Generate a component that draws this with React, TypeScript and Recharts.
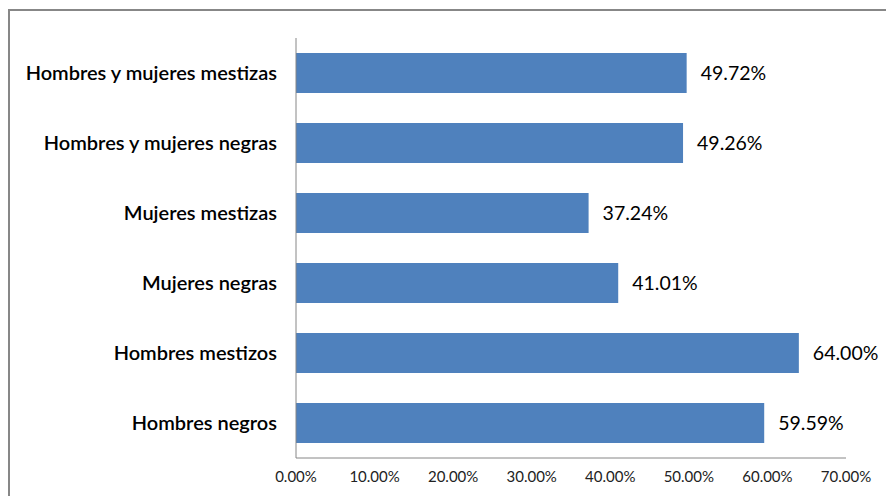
import React from 'react';
import { BarChart, Bar, XAxis, YAxis, LabelList } from 'recharts';

const categories = [
  'Hombres y mujeres mestizas',
  'Hombres y mujeres negras',
  'Mujeres mestizas',
  'Mujeres negras',
  'Hombres mestizos',
  'Hombres negros',
];
const values = [49.72, 49.26, 37.24, 41.01, 64.0, 59.59];
const xTicks = [0, 10, 20, 30, 40, 50, 60, 70];

const data = categories.map((name, i) => ({ name, value: values[i] }));
const fmt = (v: number) => `${v.toFixed(2)}%`;

export default function App() {
  return (
    <div style={{ position: 'absolute', left: 0, top: 0, width: 886, height: 496, overflow: 'hidden', background: '#fff' }}>
      <div style={{ position: 'absolute', left: 8, top: 9, width: 1000, height: 1000, border: '2px solid #878787', boxSizing: 'border-box' }} />
      <div style={{ position: 'absolute', left: 0, top: 0 }}>
        <BarChart
          width={886}
          height={496}
          data={data}
          layout="vertical"
          margin={{ top: 38, right: 40, bottom: 8, left: 0 }}
          barCategoryGap={0}
        >
          <XAxis
            type="number"
            domain={[0, 70]}
            ticks={xTicks}
            tickFormatter={fmt}
            axisLine={{ stroke: '#868686' }}
            tickLine={false}
            height={30}
            tickMargin={7}
            tick={{ fill: '#222', fontSize: 15, fontFamily: 'Lato' }}
            interval={0}
          />
          <YAxis
            type="category"
            dataKey="name"
            width={296}
            axisLine={{ stroke: '#868686' }}
            tickLine={false}
            tickMargin={13}
            tick={{ fill: '#000', fontSize: 20, fontFamily: 'Lato', fontWeight: 600 }}
            interval={0}
          />
          <Bar dataKey="value" fill="#4F81BD" barSize={40} isAnimationActive={false}>
            <LabelList
              dataKey="value"
              position="right"
              offset={14}
              formatter={(v: any) => fmt(Number(v))}
              style={{ fill: '#000', fontSize: 19.5, fontFamily: 'Lato' }}
            />
          </Bar>
        </BarChart>
      </div>
    </div>
  );
}
